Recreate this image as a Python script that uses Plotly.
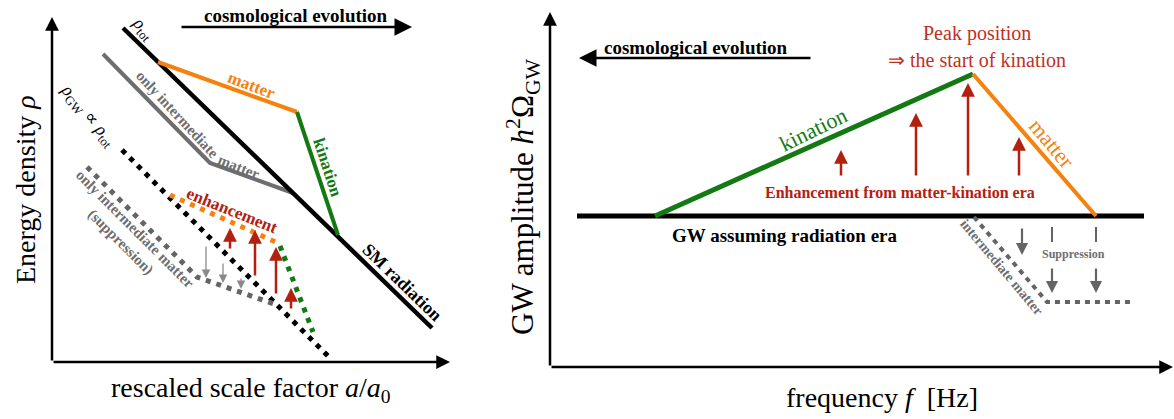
import plotly.graph_objects as go

W, H = 1174, 419
SERIF = "Liberation Serif"

BLACK = "#000000"
ORANGE = "#f5820f"
GREEN = "#137a13"
GRAY = "#6e6e6e"
DGRAY = "#646464"
RED = "#b3200f"
PEAK_RED = "#c0301f"

# ---------------- left panel: energy density vs rescaled scale factor ----------------
rho_tot_x = [123, 432]
rho_tot_y = [28, 328]
matter_x = [158, 297]
matter_y = [62, 112]
kination_x = [297, 338]
kination_y = [112, 235]
inter_x = [103, 210, 293]
inter_y = [54, 163, 193]

gw_rad_x = [122, 330]
gw_rad_y = [150, 358]
gw_matter_x = [170, 278]
gw_matter_y = [195, 243]
gw_kin_x = [280, 313]
gw_kin_y = [246, 332]
gw_inter_x = [87, 197, 277]
gw_inter_y = [167, 277, 305]

enh_left_x = [230, 255, 276, 291]
enh_left_tail = [250, 277, 295, 310]
enh_left_head = [228, 230, 247, 288]
sup_left_x = [206, 223, 241]
sup_left_tail = [245, 262, 277]
sup_left_head = [278, 283, 289]

# ---------------- right panel: GW amplitude vs frequency ----------------
rad_x = [577, 1144]
rad_y = [216, 216]
kin_r_x = [655, 973]
kin_r_y = [216, 74]
mat_r_x = [973, 1096]
mat_r_y = [74, 216]
inter_r_x = [974, 1047, 1133]
inter_r_y = [217, 302, 302]

enh_right_x = [841, 916, 968, 1019]
enh_right_tail = [177, 177, 177, 177]
enh_right_head = [150, 113, 83, 137]
sup_right_x = [1022, 1052, 1096]
sup_right_tail = [227, 267, 267]
sup_right_head = [255, 293, 293]
sup_bar_x = [1052, 1096]
sup_bar_top = [227, 227]
sup_bar_bottom = [242, 242]

fig = go.Figure()


def line(xs, ys, color, width, dash="solid"):
    fig.add_trace(go.Scatter(x=xs, y=ys, mode="lines",
                             line=dict(color=color, width=width, dash=dash),
                             hoverinfo="skip"))


def arrow(x0, y0, x1, y1, color, width, size=1.0, head=2):
    fig.add_annotation(x=x1, y=y1, ax=x0, ay=y0, xref="x", yref="y",
                       axref="x", ayref="y", showarrow=True, text="",
                       arrowhead=head, arrowsize=size, arrowwidth=width,
                       arrowcolor=color, standoff=0, startstandoff=0)


def label(x, y, text, size, color=BLACK, angle=0, bold=False):
    if bold:
        text = "<b>" + text + "</b>"
    fig.add_annotation(x=x, y=y, xref="x", yref="y", text=text, showarrow=False,
                       textangle=angle, xanchor="center", yanchor="middle",
                       font=dict(family=SERIF, size=size, color=color))


# left panel curves
line(gw_rad_x, gw_rad_y, BLACK, 5, "5px,6px")
line(gw_inter_x, gw_inter_y, DGRAY, 5, "5px,6px")
line(gw_matter_x, gw_matter_y, ORANGE, 5, "5px,6px")
line(gw_kin_x, gw_kin_y, GREEN, 5, "5px,6px")
line(inter_x, inter_y, GRAY, 4)
line(rho_tot_x, rho_tot_y, BLACK, 4.5)
line(matter_x, matter_y, ORANGE, 4)
line(kination_x, kination_y, GREEN, 4)

# right panel curves
line(rad_x, rad_y, BLACK, 5)
line(kin_r_x, kin_r_y, GREEN, 5)
line(mat_r_x, mat_r_y, ORANGE, 4)
line(inter_r_x, inter_r_y, DGRAY, 4, "5px,5px")
for bx, bt, bb in zip(sup_bar_x, sup_bar_top, sup_bar_bottom):
    line([bx, bx], [bt, bb], DGRAY, 2)

# axes with arrow heads
arrow(52, 362, 52, 17, BLACK, 2.5, 1.1)
arrow(52, 362, 450, 362, BLACK, 2.5, 1.1)
arrow(550, 367, 550, 12, BLACK, 2.5, 1.1)
arrow(550, 367, 1173, 367, BLACK, 2.5, 1.1)

# cosmological evolution arrows
arrow(180, 27, 412, 27, BLACK, 2.5, 1.4)
arrow(812, 58, 579, 58, BLACK, 2.5, 1.4)

# enhancement / suppression arrows
for x, t, h in zip(enh_left_x, enh_left_tail, enh_left_head):
    arrow(x, t, x, h, RED, 2.5, 1.1)
for x, t, h in zip(sup_left_x, sup_left_tail, sup_left_head):
    arrow(x, t, x, h, "#8a8a8a", 1.3, 1.3)
for x, t, h in zip(enh_right_x, enh_right_tail, enh_right_head):
    arrow(x, t, x, h, RED, 2.5, 1.1)
for x, t, h in zip(sup_right_x, sup_right_tail, sup_right_head):
    arrow(x, t, x, h, DGRAY, 2.2, 1.1)

# left panel text
label(296, 15, "cosmological evolution", 19, bold=True)
label(143, 28, "<i>ρ</i><sub>tot</sub>", 18, angle=48)
label(252, 85, "matter", 17, ORANGE, 21, True)
label(328, 167, "kination", 17, GREEN, 72, True)
label(177, 114, "only intermediate", 15, GRAY, 47, True)
label(239, 167, "matter", 15, GRAY, 22, True)
label(88, 115, "<i>ρ</i><sub>GW</sub> ∝ <i>ρ</i><sub>tot</sub>", 18, angle=50)
label(232, 210, "enhancement", 17, RED, 22, True)
label(135, 229, "only intermediate matter", 15, GRAY, 45, True)
label(121, 242, "(suppression)", 15, GRAY, 45, True)
label(402, 282, "SM radiation", 18, BLACK, 44, True)
label(251, 389, "rescaled scale factor <i>a</i>/<i>a</i><sub>0</sub>", 28)
label(25, 190, "Energy density <i>ρ</i>", 28, angle=-90)

# right panel text
label(696, 47, "cosmological evolution", 19, bold=True)
label(977, 33, "Peak position", 20, PEAK_RED)
label(977, 60, "⇒ the start of kination", 20, PEAK_RED)
label(813, 129, "kination", 22, GREEN, -26)
label(1052, 143, "matter", 22, ORANGE, 50)
label(900, 192, "Enhancement from matter-kination era", 16, RED, bold=True)
label(785, 235, "GW assuming radiation era", 19, bold=True)
label(1002, 267, "intermediate matter", 14, GRAY, 50, True)
label(1073, 254, "Suppression", 12, GRAY, bold=True)
label(882, 397, "frequency <i>f</i>  [Hz]", 28)
label(523, 197, "GW amplitude <i>h</i><sup>2</sup>Ω<sub>GW</sub>", 31, angle=-90)

fig.update_layout(
    width=W, height=H, margin=dict(l=0, r=0, t=0, b=0),
    paper_bgcolor="white", plot_bgcolor="white", showlegend=False,
    xaxis=dict(range=[0, W], visible=False, fixedrange=True),
    yaxis=dict(range=[H, 0], visible=False, fixedrange=True),
)

fig.write_html("out.html")
